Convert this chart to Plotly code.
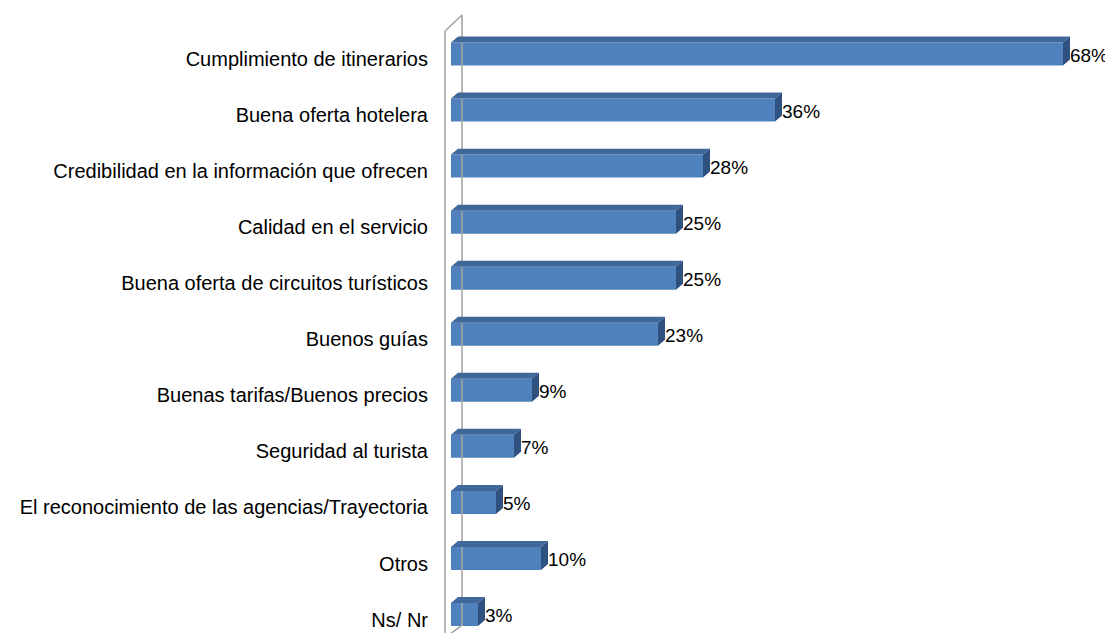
import plotly.graph_objects as go

# Data
categories = [
    "Cumplimiento de itinerarios",
    "Buena oferta hotelera",
    "Credibilidad en la información que ofrecen",
    "Calidad en el servicio",
    "Buena oferta de circuitos turísticos",
    "Buenos guías",
    "Buenas tarifas/Buenos precios",
    "Seguridad al turista",
    "El reconocimiento de las agencias/Trayectoria",
    "Otros",
    "Ns/ Nr",
]
values = [68, 36, 28, 25, 25, 23, 9, 7, 5, 10, 3]
labels = [f"{v}%" for v in values]

pos = list(range(len(categories)))

# 3D look (in axis units)
bar_w = 0.41
dx = 0.78   # depth to the right (% units)
dy = 0.107  # depth upward (category units)

front = "#4F81BD"
top_col = "#3F679B"
side_col = "#2E5180"
wall_col = "#A6A6A6"
font_fam = "Liberation Sans, Arial"

fig = go.Figure()

# back wall (thin 3D wall behind the bars)
wall_x = [-0.667, -0.667, None, -0.667, 1.22, 1.22, -0.667]
wall_y = [10.6, -0.41, None, -0.41, -0.696, 10.19, 10.42]
fig.add_trace(go.Scatter(x=wall_x, y=wall_y, mode="lines",
                         line=dict(color=wall_col, width=1.6),
                         hoverinfo="skip", showlegend=False, cliponaxis=False))

# front faces
fig.add_trace(go.Bar(x=values, y=pos, orientation="h", width=bar_w,
                     marker=dict(color=front, line=dict(width=0)),
                     showlegend=False))

# top and side faces built from the values
tx, ty, sx, sy = [], [], [], []
for v, p in zip(values, pos):
    t = p - bar_w / 2
    b = p + bar_w / 2
    tx += [0, v, v + dx, dx, 0, None]
    ty += [t, t, t - dy, t - dy, t, None]
    sx += [v, v + dx, v + dx, v, v, None]
    sy += [t, t - dy, b - dy, b, t, None]

fig.add_trace(go.Scatter(x=tx, y=ty, mode="lines", fill="toself",
                         fillcolor=top_col, line=dict(width=0, color=top_col),
                         hoverinfo="skip", showlegend=False))
fig.add_trace(go.Scatter(x=sx, y=sy, mode="lines", fill="toself",
                         fillcolor=side_col, line=dict(width=0, color=side_col),
                         hoverinfo="skip", showlegend=False))

# value labels
fig.add_trace(go.Scatter(x=[v + dx for v in values], y=[p + 0.05 for p in pos],
                         mode="text", text=labels, textposition="middle right",
                         textfont=dict(family=font_fam, size=19, color="#000000"),
                         cliponaxis=False, hoverinfo="skip", showlegend=False))

# page body adds an 8px offset, so the figure is kept smaller than the window
fig.update_layout(
    width=1105, height=625,
    margin=dict(l=436, r=0, t=0, b=0),
    plot_bgcolor="white", paper_bgcolor="white",
    xaxis=dict(range=[-0.778, 73.56], visible=False),
    yaxis=dict(range=[10.33, -0.821], tickvals=[p + 0.09 for p in pos], ticktext=categories,
               showgrid=False, zeroline=False, showline=False,
               ticks="outside", ticklen=11, tickcolor="rgba(0,0,0,0)",
               tickfont=dict(family=font_fam, size=20, color="#000000")),
    font=dict(family=font_fam),
)

fig.write_html("out.html")
